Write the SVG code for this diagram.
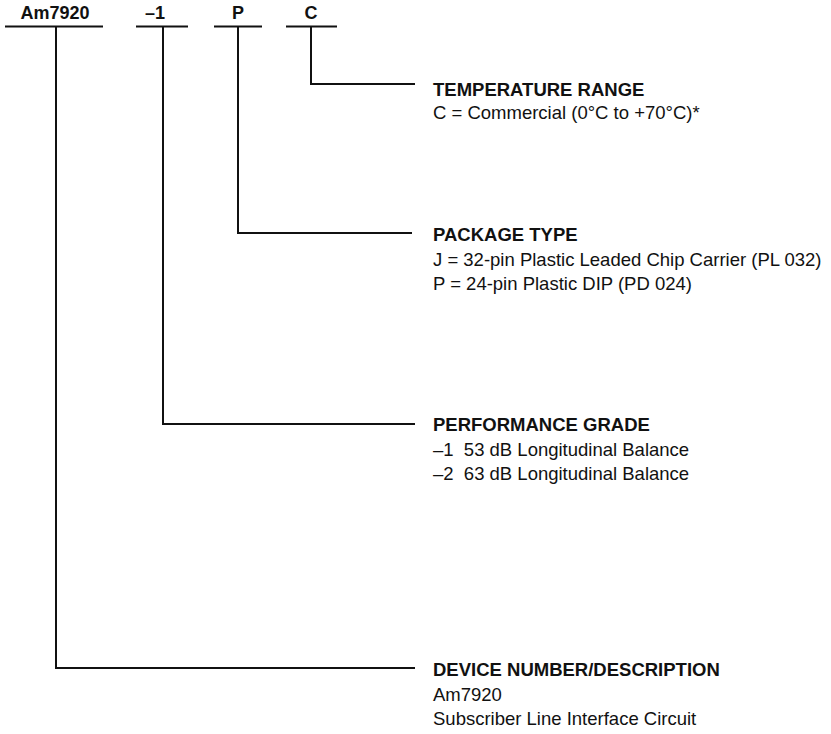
<svg xmlns="http://www.w3.org/2000/svg" width="831" height="734" viewBox="0 0 831 734">
<style>
text{font-family:"Liberation Sans",Arial,sans-serif;fill:#111;font-size:18.5px}
.b{font-weight:bold}
.top{font-weight:bold;text-anchor:middle;font-size:18px}
.ln{stroke:#111;stroke-width:2;fill:none}
</style>
<rect width="831" height="734" fill="#fff"/>
<g id="code">
<text class="top" x="55" y="19">Am7920</text>
<text class="top" x="155" y="19">–1</text>
<text class="top" x="238" y="19">P</text>
<text class="top" x="311" y="19">C</text>
<line class="ln" x1="5" y1="26.5" x2="103" y2="26.5"/>
<line class="ln" x1="136" y1="26.5" x2="188" y2="26.5"/>
<line class="ln" x1="214" y1="26.5" x2="262" y2="26.5"/>
<line class="ln" x1="286" y1="26.5" x2="337" y2="26.5"/>
</g>
<g id="connectors">
<polyline class="ln" points="311,26.5 311,84 415,84"/>
<polyline class="ln" points="238,26.5 238,233 412,233"/>
<polyline class="ln" points="163,26.5 163,424 415,424"/>
<polyline class="ln" points="56,26.5 56,668 415,668"/>
</g>
<g id="temperature">
<text class="b" x="433" y="96">TEMPERATURE RANGE</text>
<text x="433" y="119">C = Commercial (0°C to +70°C)*</text>
</g>
<g id="package">
<text class="b" x="433" y="241">PACKAGE TYPE</text>
<text x="433" y="266">J = 32-pin Plastic Leaded Chip Carrier (PL 032)</text>
<text x="433" y="290">P = 24-pin Plastic DIP (PD 024)</text>
</g>
<g id="performance">
<text class="b" x="433" y="431">PERFORMANCE GRADE</text>
<text x="433" y="456" xml:space="preserve">–1  53 dB Longitudinal Balance</text>
<text x="433" y="480" xml:space="preserve">–2  63 dB Longitudinal Balance</text>
</g>
<g id="device">
<text class="b" x="433" y="676">DEVICE NUMBER/DESCRIPTION</text>
<text x="433" y="701">Am7920</text>
<text x="433" y="725">Subscriber Line Interface Circuit</text>
</g>
</svg>
